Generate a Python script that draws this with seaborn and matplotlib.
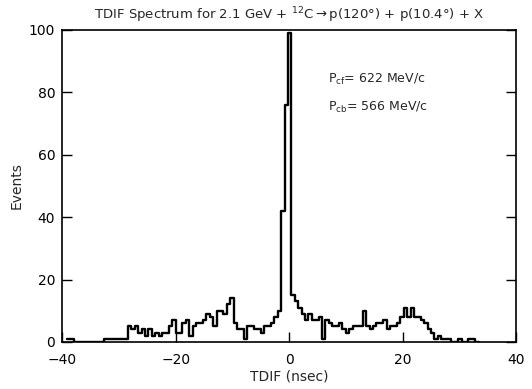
import numpy as np
import pandas as pd
import matplotlib
matplotlib.use("Agg")
import matplotlib.pyplot as plt
import seaborn as sns

# Bin layout (nsec): 0.6 nsec bins starting at -39.2
bin_start = -39.2
bin_width = 0.6
counts = [
    1, 1,                                   # -39.2 .. -38.0
    0, 0, 0, 0, 0, 0, 0, 0, 0,              # -38.0 .. -32.6
    1, 1, 1, 1, 1, 1, 1,                    # -32.6 .. -28.4
    5, 4, 5, 3, 4, 2, 4, 2, 3, 2,           # -28.4 ..
    3, 3, 5, 7, 3, 3, 6, 7, 2, 5,           # -22.4 ..
    6, 6, 7, 9, 8, 5, 10, 10, 9, 12,        # -16.4 ..
    14, 6, 4, 4, 1, 5, 5, 4, 4, 3,          # -10.4 ..
    5, 5, 6, 8, 10, 42, 76, 99, 15, 13,     # -4.4 ..
    11, 9, 7, 9, 7, 7, 8, 1, 7, 6,          # 1.6 ..
    5, 5, 6, 4, 3, 4, 5, 5, 5, 10,          # 7.6 ..
    5, 4, 5, 6, 6, 7, 4, 5, 5, 6,           # 13.6 ..
    8, 11, 8, 11, 8, 8, 7, 6, 4, 3,         # 19.6 ..
    1, 2, 1, 1, 1, 0, 0, 1, 0, 0,           # 25.6 ..
    1, 1, 0,                                # 31.6 .. 33.4
]

x_ticks = [-40, -20, 0, 20, 40]
y_ticks = [0, 20, 40, 60, 80, 100]

title = r"TDIF Spectrum for 2.1 GeV + $^{12}$C$\rightarrow$p(120°) + p(10.4°) + X"
notes = [r"P$_{\rm cf}$= 622 MeV/c", r"P$_{\rm cb}$= 566 MeV/c"]

n = len(counts)
centers = bin_start + bin_width * (np.arange(n) + 0.5)
df = pd.DataFrame({"tdif": centers, "events": np.asarray(counts, dtype=float)})

sns.set_theme(style="ticks")
plt.rcParams['font.family'] = ['DejaVu Sans']

fig = plt.figure(figsize=(5.32, 3.89), dpi=100)
ax = fig.add_axes([0.117, 0.121, 0.853, 0.802])

sns.histplot(data=df, x="tdif", weights="events", binwidth=bin_width,
             binrange=(bin_start, bin_start + bin_width * n), element="step",
             fill=False, color="black", linewidth=1.7, ax=ax)

ax.set_xlim(-40, 40)
ax.set_ylim(0, 100)
ax.set_xticks(x_ticks)
ax.set_yticks(y_ticks)
ax.tick_params(direction="in", length=7, width=1, labelsize=10,
               top=False, right=True, colors="black")
ax.tick_params(axis="x", pad=8)
ax.tick_params(axis="y", pad=5)
for s in ax.spines.values():
    s.set_visible(True)
    s.set_color("black")
    s.set_linewidth(1.2)

ax.set_xlabel("TDIF (nsec)", fontsize=10, labelpad=2)
ax.set_ylabel("Events", fontsize=10)
ax.set_title(title, fontsize=9.5, pad=8)

ax.text(6.8, 84, notes[0], fontsize=9, va="center", ha="left")
ax.text(6.8, 75, notes[1], fontsize=9, va="center", ha="left")

fig.savefig("out.png", dpi=100, facecolor="white")
